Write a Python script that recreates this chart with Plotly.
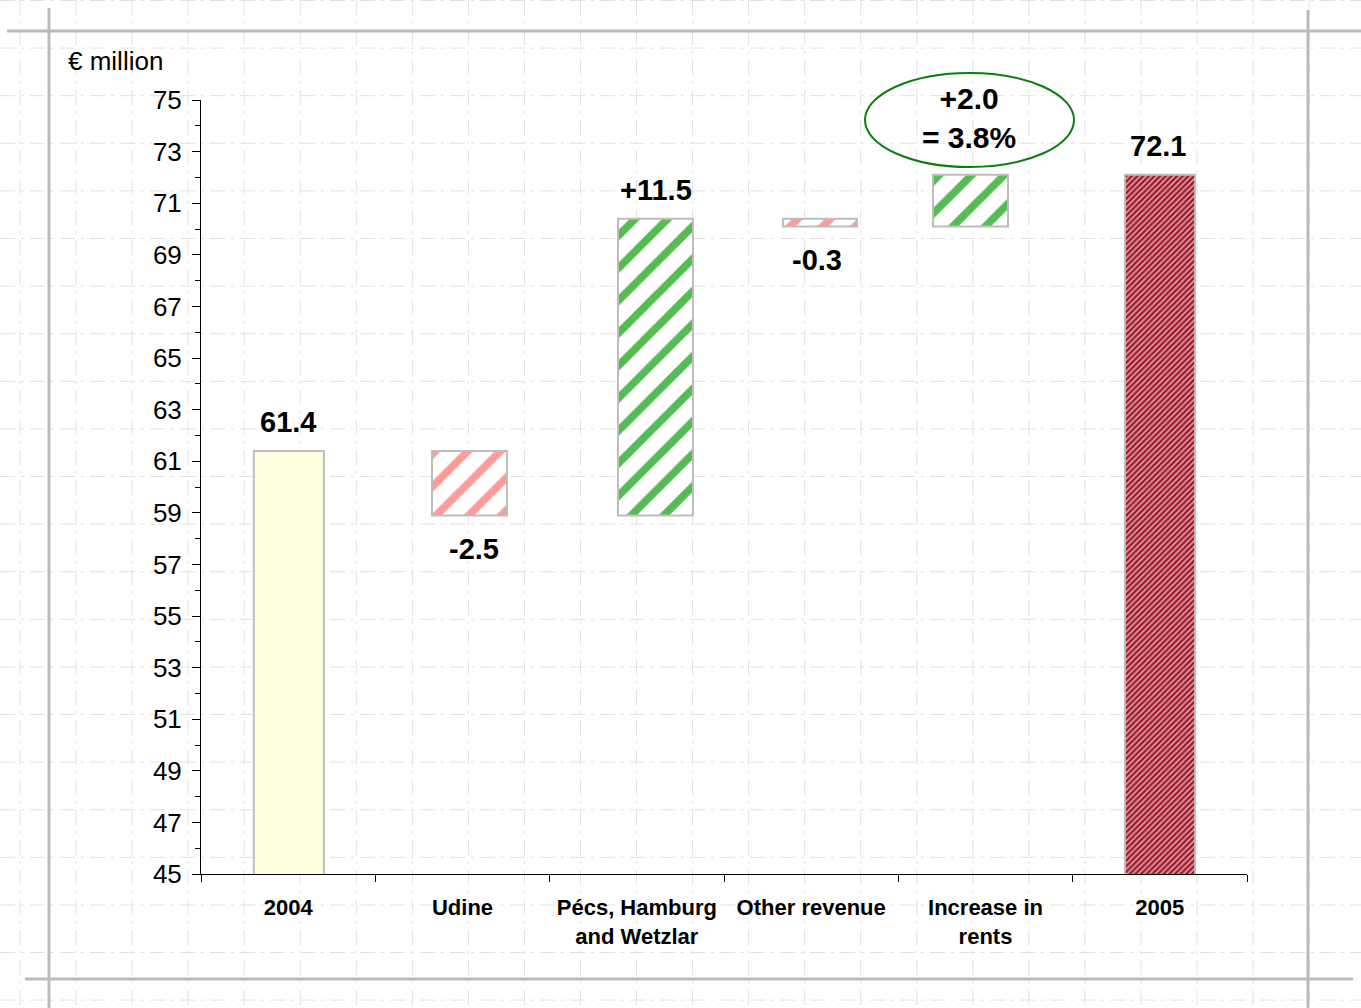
import plotly.graph_objects as go

# ---- data -------------------------------------------------------------
categories = ["2004", "Udine", "Pécs, Hamburg<br>and Wetzlar", "Other revenue",
              "Increase in<br>rents", "2005"]
changes = [61.4, -2.5, 11.5, -0.3, 2.0, 72.1]
kinds = ["total", "relative", "relative", "relative", "relative", "total"]
value_labels = ["61.4", "-2.5", "+11.5", "-0.3", "", "72.1"]
growth_note = "+2.0<br>= 3.8%"
y_ticks = list(range(45, 76, 2))

# ---- waterfall geometry from the changes ------------------------------
bases, heights, running = [], [], 0.0
for kind, val in zip(kinds, changes):
    if kind == "total":
        bases.append(0.0)
        heights.append(val)
        running = val
    else:
        bases.append(running)
        heights.append(val)
        running += val

# ---- styles -----------------------------------------------------------
W, H = 1361, 1008
L, R, T, B = 201, 1247, 100, 874
PINK, GREEN = "#FF9A9A", "#55BB55"
bar_fg = ["#FFFFD0", PINK, GREEN, PINK, GREEN, "#9C1626"]
bar_bg = ["#FFFFEC", "white", "white", "white", "white", "#DDA0A4"]
bar_size = [5, 23, 23, 23, 23, 4]
bar_solid = [0.4, 0.34, 0.34, 0.34, 0.34, 0.55]
bar_width = [0.402, 0.43, 0.43, 0.425, 0.43, 0.402]
bar_offset = [-0.197, -0.175, -0.108, -0.162, -0.301, -0.2]
label_xshift = [0, 11, 19, 6, 0, -2]
FONT = "Liberation Sans, Arial"

fig = go.Figure()
for i, cat in enumerate(categories):
    fig.add_trace(go.Bar(
        x=[cat], y=[heights[i]], base=[bases[i]],
        width=[bar_width[i]], offset=[bar_offset[i]],
        marker=dict(
            color=bar_bg[i],
            line=dict(color="#BDBDBD", width=2),
            pattern=dict(shape="/", fgcolor=bar_fg[i], bgcolor=bar_bg[i],
                         size=bar_size[i], solidity=bar_solid[i],
                         fillmode="replace"),
        ),
        hoverinfo="skip", showlegend=False,
    ))

# value labels: above rising bars, below falling ones
for i, (base, h, txt, xs) in enumerate(zip(bases, heights, value_labels,
                                           label_xshift)):
    if not txt:
        continue
    end = base + h
    up = h >= 0
    fig.add_annotation(
        x=i, y=end, text=txt, showarrow=False, xshift=xs,
        xanchor="center", yanchor="bottom" if up else "top",
        yshift=11 if up else -16,
        font=dict(family=FONT, size=29, color="black", weight="bold"),
    )

def px_x(p):
    return (p - L) / (R - L)

def px_y(p):
    return (B - p) / (B - T)

# growth callout in a green ellipse
fig.add_shape(type="circle", xref="paper", yref="paper",
              x0=px_x(865), x1=px_x(1074), y0=px_y(167), y1=px_y(73),
              line=dict(color="#0A7D0A", width=2), layer="above")
fig.add_annotation(xref="paper", yref="paper", x=px_x(969), y=px_y(118),
                   xanchor="center", yanchor="middle", align="center",
                   text=growth_note, showarrow=False,
                   font=dict(family=FONT, size=30, color="black",
                             weight="bold"))

# unit caption
fig.add_annotation(xref="paper", yref="paper", x=px_x(66), y=px_y(61),
                   xanchor="left", yanchor="middle", text="€ million",
                   showarrow=False,
                   font=dict(family=FONT, size=26, color="black"))

# squared-paper background
shapes = []
gx = 20.0
while gx < W:
    shapes.append(dict(type="line", xref="paper", yref="paper",
                       x0=px_x(gx), x1=px_x(gx), y0=px_y(0), y1=px_y(H),
                       line=dict(color="#E2E2E2", width=1, dash="longdashdot"),
                       layer="below"))
    gx += 56.05
gy = 0.5
while gy < H:
    shapes.append(dict(type="line", xref="paper", yref="paper",
                       x0=px_x(0), x1=px_x(W), y0=px_y(gy), y1=px_y(gy),
                       line=dict(color="#E2E2E2", width=1, dash="longdashdot"),
                       layer="below"))
    gy += 47.6
# heavier frame lines
for x0, y0, x1, y1 in [(7, 31, W, 31), (49, 8, 49, H), (1308, 10, 1308, H),
                       (25, 979, 1353, 979)]:
    shapes.append(dict(type="line", xref="paper", yref="paper",
                       x0=px_x(x0), x1=px_x(x1), y0=px_y(y0), y1=px_y(y1),
                       line=dict(color="#BBBBBB", width=3), layer="below"))
for s in shapes:
    fig.add_shape(**s)

fig.update_layout(
    width=W, height=H,
    margin=dict(l=L, r=W - R, t=T, b=H - B),
    paper_bgcolor="white", plot_bgcolor="rgba(0,0,0,0)",
    barmode="overlay",
    xaxis=dict(
        type="category", range=[-0.5, len(categories) - 0.5],
        categoryorder="array", categoryarray=categories,
        showline=True, linecolor="black", linewidth=1,
        ticks="outside", tickson="boundaries", ticklen=7, tickcolor="black",
        ticklabelstandoff=14,
        showgrid=False, zeroline=False, tickangle=0,
        tickfont=dict(family=FONT, size=22, color="black", weight="bold"),
    ),
    yaxis=dict(
        range=[45, 75], tickvals=y_ticks, showline=True, linecolor="black",
        linewidth=1, ticks="outside", ticklen=8, tickcolor="black",
        ticklabelstandoff=5,
        minor=dict(dtick=1, ticks="outside", ticklen=5, tickcolor="black"),
        showgrid=False, zeroline=False,
        tickfont=dict(family=FONT, size=26, color="black"),
    ),
)

fig.write_html("out.html")
